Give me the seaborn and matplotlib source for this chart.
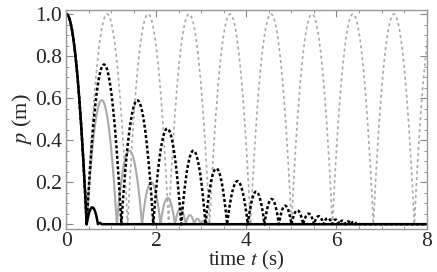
import numpy as np
import pandas as pd
import matplotlib
matplotlib.use("Agg")
import matplotlib.pyplot as plt
import seaborn as sns

# impact times (s) and the apex height (m) of the arc that follows each impact,
# read off the picture; the first arc (-0.45 .. 0.45, apex 1.0) is the initial drop
elastic_impacts = [-0.45, 0.45, 1.36, 2.27, 3.18, 4.09, 5.00, 5.91, 6.82, 7.73, 8.64]
elastic_peaks = [1.0, 1.0, 1.0, 1.0, 1.0, 1.0, 1.0, 1.0, 1.0, 1.0]

dotted_impacts = [-0.45, 0.45, 1.22, 1.93, 2.55, 3.09, 3.57, 4.03, 4.40, 4.72, 5.00,
                  5.26, 5.50, 5.71, 5.90, 6.06, 6.20, 6.32, 6.42, 6.50]
dotted_peaks = [1.0, 0.76, 0.59, 0.455, 0.35, 0.265, 0.205, 0.155, 0.12, 0.088,
                0.066, 0.05, 0.038, 0.029, 0.022, 0.017, 0.013, 0.01, 0.008]

gray_impacts = [-0.45, 0.45, 1.12, 1.68, 2.09, 2.41, 2.65, 2.84, 2.98, 3.09, 3.17]
gray_peaks = [1.0, 0.59, 0.35, 0.20, 0.125, 0.072, 0.043, 0.026, 0.015, 0.009]

black_impacts = [-0.45, 0.45, 0.70, 0.78]
black_peaks = [1.0, 0.08, 0.006]

t_end = 8.0


def bounce_curve(impacts, peaks, n=60):
    # parabolic arc between consecutive impacts, then resting on the floor
    ts, ps = [], []
    for i in range(len(peaks)):
        a, b = impacts[i], impacts[i + 1]
        mid, half = (a + b) / 2, (b - a) / 2
        t = np.linspace(a, b, n)
        ts.append(t)
        ps.append(peaks[i] * (1 - ((t - mid) / half) ** 2))
    ts.append(np.array([impacts[-1], t_end]))
    ps.append(np.array([0.0, 0.0]))
    return np.concatenate(ts), np.concatenate(ps)


sns.set_style("ticks")
plt.rcParams['font.family'] = ['Liberation Serif', 'DejaVu Serif']
plt.rcParams['mathtext.fontset'] = 'stix'

fig = plt.figure(figsize=(4.37, 2.72), dpi=100)
ax = fig.add_axes([0.152, 0.158, 0.824, 0.805])

curves = [
    (elastic_impacts, elastic_peaks, dict(color='#ababab', lw=1.2, dashes=(1.8, 1.8))),
    (gray_impacts, gray_peaks, dict(color='#aaaaaa', lw=1.5)),
    (dotted_impacts, dotted_peaks, dict(color='black', lw=1.8, dashes=(1.2, 0.9))),
    (black_impacts, black_peaks, dict(color='black', lw=1.8)),
]
for impacts, peaks, style in curves:
    t, p = bounce_curve(impacts, peaks)
    df = pd.DataFrame({'t': t, 'p': p})
    line_kw = {k: v for k, v in style.items() if k != 'dashes'}
    sns.lineplot(data=df, x='t', y='p', ax=ax, sort=False, estimator=None, **line_kw)
    if 'dashes' in style:
        ax.lines[-1].set_dashes(style['dashes'])

ax.set_xlim(0, 8)
ax.set_ylim(-0.023, 1.019)
ax.set_xticks([0, 2, 4, 6, 8])
ax.set_yticks([0.0, 0.2, 0.4, 0.6, 0.8, 1.0])
ax.set_yticklabels(['0.0', '0.2', '0.4', '0.6', '0.8', '1.0'])
ax.set_xticks(np.arange(0, 8.01, 0.5), minor=True)
ax.set_yticks(np.arange(0, 1.001, 0.05), minor=True)
ax.tick_params(which='both', direction='in', top=True, right=True, color='#888888',
               labelsize=15.5)
ax.tick_params(axis='x', which='both', pad=2)
ax.tick_params(axis='y', which='both', pad=3)
ax.tick_params(which='major', length=5, width=0.8)
ax.tick_params(which='minor', length=2.5, width=0.6)
for s in ax.spines.values():
    s.set_color('#999999')
    s.set_linewidth(1.0)

ax.set_xlabel('time $t$ (s)', fontsize=15, labelpad=-1)
ax.set_ylabel('$p$ (m)', fontsize=16, labelpad=1)

fig.savefig('out.png', dpi=100)
